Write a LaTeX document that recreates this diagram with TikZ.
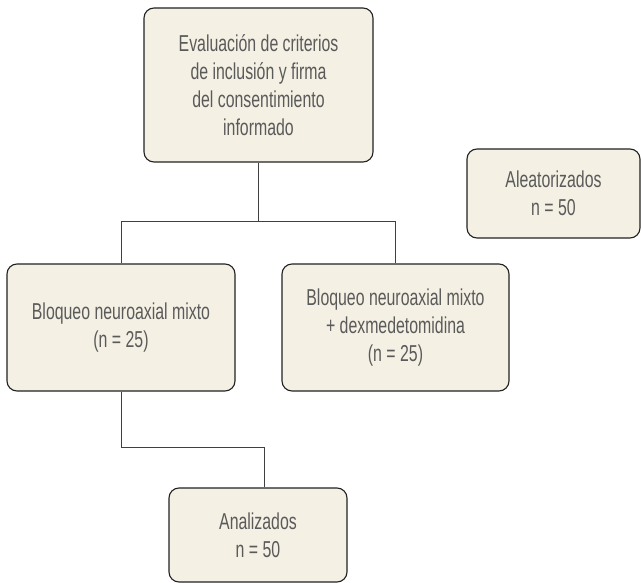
\documentclass[tikz,border=0pt]{standalone}
\usepackage{fontspec}
\setmainfont{Liberation Sans}[FakeStretch=0.69]
\usetikzlibrary{positioning,calc}
\definecolor{boxfill}{HTML}{F4F0E4}
\definecolor{boxtext}{HTML}{5A5A5A}
\definecolor{boxline}{HTML}{222222}

\begin{document}
\begin{tikzpicture} [x=1pt, y=-1pt, box/.style={draw=boxline, fill=boxfill, line width=1.1pt, rounded corners=10pt, align=center, inner sep=0pt, text=boxtext, font=\fontsize{23}{28}\selectfont}, link/.style={draw=black!75, line width=1pt}]
\useasboundingbox (0,0) rectangle (641,583);
\node[box, minimum width=229pt, minimum height=154pt] (eval) at (258.5,85) {Evaluación de criterios\\de inclusión y firma\\del consentimiento\\informado};
\node[box, minimum width=173pt, minimum height=89pt] (rand) at (553.5,193.5) {Aleatorizados\\n = 50};
\node[box, minimum width=228pt, minimum height=127pt] (grpA) at (121,327.5) {Bloqueo neuroaxial mixto\\(n = 25)};
\node[box, minimum width=227pt, minimum height=127pt] (grpB) at (395.5,327.5) {Bloqueo neuroaxial mixto\\+ dexmedetomidina\\(n = 25)};
\node[box, minimum width=178pt, minimum height=94pt] (anal) at (258,535) {Analizados\\n = 50};
\coordinate (split) at (258.5,222);
\coordinate (join) at (121,447);
\path[link] (eval.south) -- (split) -| (grpA.north)
            (split) -| (grpB.north)
            (grpA.south) -- (join) -| ([xshift=6pt]anal.north);
\end{tikzpicture}
\end{document}
